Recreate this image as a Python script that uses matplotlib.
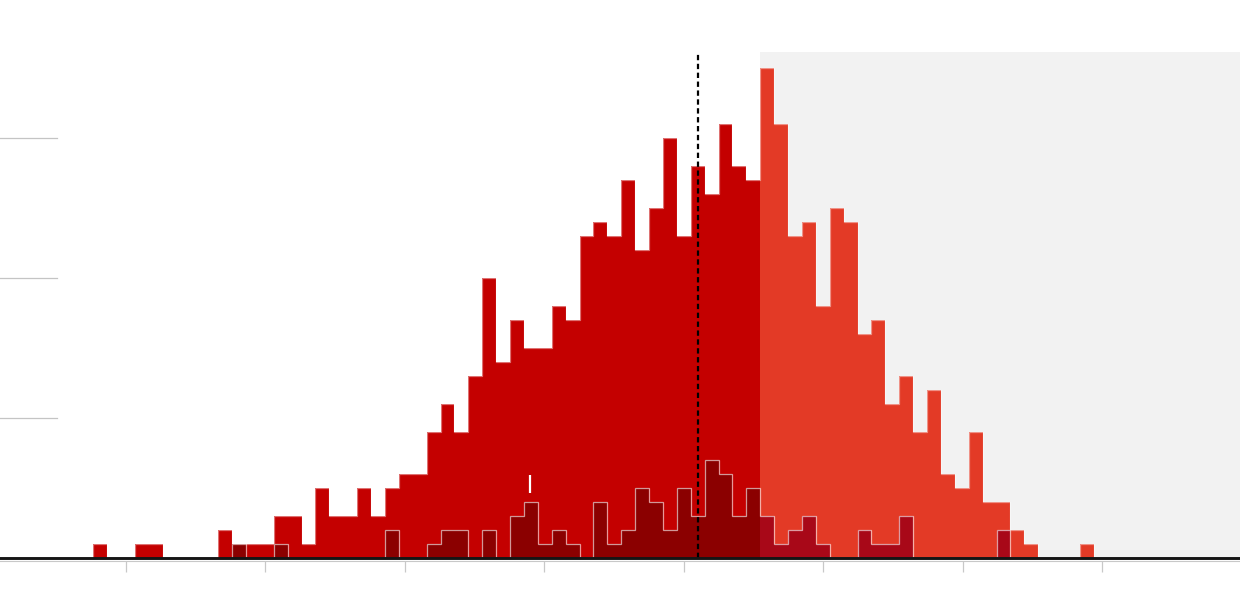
import numpy as np
import matplotlib
matplotlib.use("Agg")
import matplotlib.pyplot as plt

# ---- data ----
bin_start = -0.2367      # left edge of first bin, in tick units
bin_width = 0.0997       # bin width, in tick units
split_bin = 48           # first bin of the right-hand (highlighted) group

all_counts = [1, 0, 0, 1, 1, 0, 0, 0, 0, 2,
              1, 1, 1, 3, 3, 1, 5, 3, 3, 5,
              3, 5, 6, 6, 9, 11, 9, 13, 20, 14,
              17, 15, 15, 18, 17, 23, 24, 23, 27, 22,
              25, 30, 23, 28, 26, 31, 28, 27, 35, 31,
              23, 24, 18, 25, 24, 16, 17, 11, 13, 9,
              12, 6, 5, 9, 4, 4, 2, 1, 0, 0,
              0, 1, 0, 0, 0, 0, 0, 0]

sub_counts = [0, 0, 0, 0, 0, 0, 0, 0, 0, 0,
              1, 0, 0, 1, 0, 0, 0, 0, 0, 0,
              0, 2, 0, 0, 1, 2, 2, 0, 2, 0,
              3, 4, 1, 2, 1, 0, 4, 1, 2, 5,
              4, 2, 5, 3, 7, 6, 3, 5, 3, 1,
              2, 3, 1, 0, 0, 2, 1, 1, 3, 0,
              0, 0, 0, 0, 0, 2, 0, 0, 0, 0,
              0, 0, 0, 0, 0, 0, 0, 0]

tick_values = [0, 1, 2, 3, 4, 5, 6, 7]
mean_value = 4.102          # dashed reference line
marker_value = 2.901        # small white marker
marker_range = (4.64, 5.93)
grid_values = [10, 20, 30]

# ---- colours ----
c_main_left = "#c40000"
c_main_right = "#e33a26"
c_sub_left = "#8b0000"
c_sub_right = "#a80818"
c_region = "#f2f2f2"

W, H = 1240, 616
fig = plt.figure(figsize=(W / 100, H / 100), dpi=100)
ax = fig.add_axes([0, 58 / H, 1, (558 - 52) / H])

x_left = -126 / 139.43
x_right = (W - 126) / 139.43
y_top = (558 - 52) / 14
ax.set_xlim(x_left, x_right)
ax.set_ylim(0, y_top)

edges = bin_start + bin_width * np.arange(len(all_counts) + 1)
all_counts = np.array(all_counts)
sub_counts = np.array(sub_counts)
s = split_bin

# highlighted region
ax.axvspan(edges[s], x_right, color=c_region, zorder=0, lw=0)

edge_col = (1, 1, 1, 0.45)
# main histogram
ax.stairs(all_counts[:s], edges[:s + 1], fill=True, color=c_main_left, zorder=2)
ax.stairs(all_counts[s:], edges[s:], fill=True, color=c_main_right, zorder=2)
ax.stairs(all_counts, edges, fill=False, color=edge_col, lw=0.9, zorder=2.5)
# subgroup histogram
ax.stairs(sub_counts[:s], edges[:s + 1], fill=True, color=c_sub_left, zorder=3)
ax.stairs(sub_counts[s:], edges[s:], fill=True, color=c_sub_right, zorder=3)
ax.stairs(sub_counts, edges, fill=False, color=(1, 1, 1, 0.6), lw=0.9, zorder=3.5)

# dashed reference line
ax.axvline(mean_value, ymin=0, ymax=1, color="black", lw=1.6,
           linestyle=(0, (2.4, 1.6)), zorder=4)

# white marker
ax.vlines(marker_value, marker_range[0], marker_range[1], color="white", lw=1.6, zorder=5)

# short grid lines in left margin
for g in grid_values:
    ax.axhline(g, xmin=0, xmax=57 / W, color="#c4c4c4", lw=0.9, zorder=1)

# baseline
ax.axhline(0, color="#151515", lw=2.1, zorder=6, clip_on=False)

for sp in ["top", "right", "left"]:
    ax.spines[sp].set_visible(False)
ax.spines["bottom"].set_position(("outward", 1.8))
ax.spines["bottom"].set_color("#c8c8c8")
ax.spines["bottom"].set_linewidth(0.8)
ax.set_xticks(tick_values)
ax.set_xticklabels([])
ax.tick_params(axis="x", direction="out", length=8, width=0.9, color="#c8c8c8")
ax.set_yticks([])
ax.set_facecolor("white")
fig.patch.set_facecolor("white")

fig.savefig("out.png", dpi=100, facecolor="white")
